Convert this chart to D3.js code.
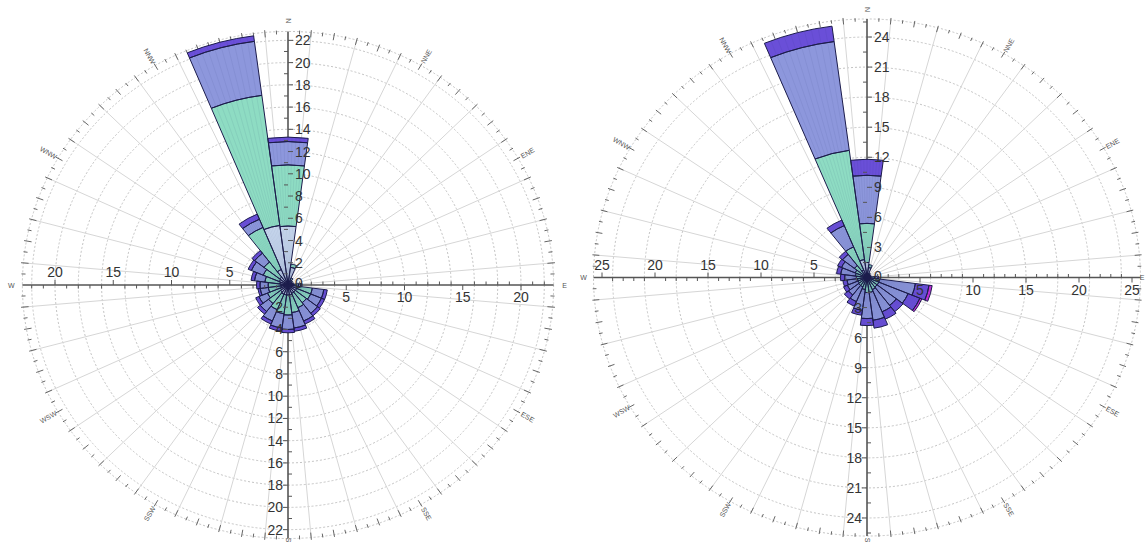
<!DOCTYPE html>
<html><head><meta charset="utf-8">
<script src="https://cdn.jsdelivr.net/npm/d3@7"></script>
<style>body{margin:0;background:#fff;} svg{display:block;font-family:Arial,"Liberation Sans",sans-serif;}</style>
</head><body><svg id="c" width="1148" height="546"></svg>
<script>
// ---- shared ----
const directions = d3.range(0, 360, 15);   // 24 sectors, 15 deg wide
const compassLabels = ["N","NNE","ENE","E","ESE","SSE","S","SSW","WSW","W","WNW","NNW"];
const compassAngles = d3.range(0, 360, 30);
const classColors = ["#c9d9ef", "#8edcc3", "#8d97dc", "#6a4fd8", "#c42ed9"];

// ---- left rose: values per speed class for each direction (0,15,...,345) ----
const leftClass1 = [5.3,1.6,0.5,0.4,0.3,0.4,0.5,0.8,0.8,0.8,0.8,0.9,0.9,0.9,0.9,0.8,0.7,0.6,0.6,0.7,0.8,0.9,1.5,5.4];
const leftClass2 = [5.5,0.3,0.2,0.1,0.1,0.1,0.4,1.3,1.3,1.2,1.4,1.6,1.8,1.7,1.5,1.3,1.2,1.1,1.1,1.3,1.5,1.7,4.1,11.8];
const leftClass3 = [2.1,0,0,0,0,0,0.2,1.0,1.0,1.2,1.3,1.4,1.3,1.3,1.1,0.9,0.8,0.7,0.7,0.9,1.1,1.0,0.8,4.9];
const leftClass4 = [0.4,0,0,0,0,0,0.1,0.3,0.3,0.3,0.3,0.3,0.3,0.3,0.3,0.3,0.3,0.2,0.3,0.3,0.3,0.3,0.5,0.5];
const leftVTicks = [2,4,6,8,10,12,14,16,18,20,22];
const leftHTicks = [5,10,15,20];

// ---- right rose ----
const rightClass1 = [1.5,1.0,0.4,0.3,0.3,0.3,0.3,0.3,0.3,0.3,0.3,0.3,0.3,0.3,0.3,0.3,0.3,0.3,0.3,0.3,0.3,0.4,0.8,1.8];
const rightClass2 = [3.9,0.3,0.1,0.1,0.1,0.1,0.4,0.9,0.9,0.9,1.0,1.2,1.2,0.9,0.7,0.7,0.6,0.6,0.7,0.8,0.9,1.1,2.5,11.0];
const rightClass3 = [4.8,0,0,0,0,0,0.3,3.4,3.0,2.3,2.4,2.8,2.6,2.1,1.6,1.2,1.1,1.0,1.1,1.4,1.4,1.4,2.3,10.95];
const rightClass4 = [1.6,0,0,0,0,0,0.1,1.3,1.2,0.8,0.8,0.8,0.7,0.5,0.5,0.5,0.4,0.4,0.4,0.4,0.4,0.4,0.6,1.55];
const rightClass5 = [0,0,0,0,0,0,0,0.3,0.2,0,0,0,0,0,0,0,0,0,0,0,0,0,0,0];
const rightVTicks = [3,6,9,12,15,18,21,24];
const rightHTicks = [5,10,15,20,25];

const svg = d3.select("#c");

function drawRose(cfg) {
  const {cx, cy, kx, ky, outer, classes, vTicks, hTicks, vMinor, hMinor} = cfg;
  const rad = Math.PI / 180;
  const r = d3.scaleLinear().domain([0, outer]).range([0, outer * ky]);
  const px = (v, a) => cx + v * kx * Math.sin(a * rad);
  const py = (v, a) => cy - v * ky * Math.cos(a * rad);
  const g = svg.append("g").attr("transform", `translate(${cx},${cy}) scale(${kx / ky},1)`);
  const nss = "non-scaling-stroke";

  // concentric rings
  g.selectAll("circle.ring").data(vTicks).join("circle")
    .attr("r", d => r(d)).attr("fill", "none")
    .attr("stroke", "#c4c4c4").attr("stroke-width", 1).attr("stroke-dasharray", "2,2")
    .attr("vector-effect", nss);
  g.append("circle").attr("r", r(outer)).attr("fill", "none")
    .attr("stroke", "#c4c4c4").attr("stroke-dasharray", "2,2").attr("vector-effect", nss);

  // radial grid lines
  const spokes = d3.range(5, 360, 10);
  g.selectAll("line.spoke").data(spokes).join("line")
    .attr("x1", 0).attr("y1", 0)
    .attr("x2", d => r(outer) * Math.sin(d * rad)).attr("y2", d => -r(outer) * Math.cos(d * rad))
    .attr("stroke", "#d6d6d6").attr("stroke-width", 1).attr("vector-effect", nss);

  // outer ring tick marks
  const oticks = d3.range(0, 360, 2.5).filter(d => d % 90 !== 0);
  g.selectAll("line.otick").data(oticks).join("line")
    .attr("x1", d => r(outer - (d % 5 === 0 ? 0.45 : 0.25)) * Math.sin(d * rad))
    .attr("y1", d => -r(outer - (d % 5 === 0 ? 0.45 : 0.25)) * Math.cos(d * rad))
    .attr("x2", d => r(outer + (d % 5 === 0 ? 0.2 : 0.1)) * Math.sin(d * rad))
    .attr("y2", d => -r(outer + (d % 5 === 0 ? 0.2 : 0.1)) * Math.cos(d * rad))
    .attr("stroke", "#666").attr("stroke-width", 1).attr("vector-effect", nss);

  // axis lines (N-S, W-E)
  g.append("line").attr("x1", 0).attr("x2", 0).attr("y1", -r(outer)).attr("y2", r(outer))
    .attr("stroke", "#555").attr("stroke-width", 1.6).attr("vector-effect", nss);
  g.append("line").attr("y1", 0).attr("y2", 0).attr("x1", -r(outer)).attr("x2", r(outer))
    .attr("stroke", "#555").attr("stroke-width", 1.6).attr("vector-effect", nss);

  // axis ticks
  const tg = svg.append("g").attr("stroke", "#555").attr("stroke-width", 1);
  vTicks.forEach(v => {
    tg.append("line").attr("x1", cx).attr("x2", cx + 5).attr("y1", py(v, 0)).attr("y2", py(v, 0));
    tg.append("line").attr("x1", cx).attr("x2", cx - 5).attr("y1", py(v, 180)).attr("y2", py(v, 180));
  });
  d3.range(vMinor, outer, vMinor).filter(v => !vTicks.includes(+v.toFixed(2))).forEach(v => {
    tg.append("line").attr("x1", cx).attr("x2", cx - 4).attr("y1", py(v, 0)).attr("y2", py(v, 0));
    tg.append("line").attr("x1", cx).attr("x2", cx + 4).attr("y1", py(v, 180)).attr("y2", py(v, 180));
  });
  hTicks.forEach(v => {
    tg.append("line").attr("y1", cy).attr("y2", cy + 5).attr("x1", px(v, 90)).attr("x2", px(v, 90));
    tg.append("line").attr("y1", cy).attr("y2", cy - 5).attr("x1", px(v, 270)).attr("x2", px(v, 270));
  });
  d3.range(hMinor, outer, hMinor).filter(v => !hTicks.includes(+v.toFixed(2))).forEach(v => {
    tg.append("line").attr("y1", cy).attr("y2", cy - 3.5).attr("x1", px(v, 90)).attr("x2", px(v, 90));
    tg.append("line").attr("y1", cy).attr("y2", cy + 3.5).attr("x1", px(v, 270)).attr("x2", px(v, 270));
  });

  // stacked bars
  const arc = d3.arc();
  const half = 7.5 * rad;
  const segs = [];
  directions.forEach((dir, i) => {
    let acc = 0;
    classes.forEach((arr, c) => {
      const v = arr[i];
      if (v > 0) {
        segs.push({dir, c, r0: acc, r1: acc + v});
        acc += v;
      }
    });
  });
  g.selectAll("path.seg").data(segs).join("path")
    .attr("d", d => arc({innerRadius: r(d.r0), outerRadius: r(d.r1),
      startAngle: d.dir * rad - half, endAngle: d.dir * rad + half}))
    .attr("fill", d => classColors[d.c]);
  // fine radial texture inside the bars
  const stripes = [];
  segs.forEach(s => d3.range(-6, 7.5, 1.5).forEach(o => stripes.push({s, a: (s.dir + o) * rad})));
  g.selectAll("line.stripe").data(stripes).join("line")
    .attr("x1", d => r(d.s.r0) * Math.sin(d.a)).attr("y1", d => -r(d.s.r0) * Math.cos(d.a))
    .attr("x2", d => r(d.s.r1) * Math.sin(d.a)).attr("y2", d => -r(d.s.r1) * Math.cos(d.a))
    .attr("stroke", "#203060").attr("stroke-opacity", 0.07).attr("stroke-width", 1)
    .attr("vector-effect", nss);
  g.selectAll("path.segline").data(segs).join("path")
    .attr("d", d => arc({innerRadius: r(d.r0), outerRadius: r(d.r1),
      startAngle: d.dir * rad - half, endAngle: d.dir * rad + half}))
    .attr("fill", "none")
    .attr("stroke", "#1c1c4c").attr("stroke-width", 1).attr("stroke-linejoin", "round")
    .attr("vector-effect", nss);

  // axis labels
  const lg = svg.append("g").attr("font-size", 14).attr("fill", "#333");
  vTicks.forEach(v => {
    lg.append("text").attr("x", cx + 7).attr("y", py(v, 0) + 5).text(v);
    lg.append("text").attr("x", cx - 5).attr("y", py(v, 180) + 5).attr("text-anchor", "end").text(v);
  });
  lg.append("text").attr("x", cx + 7).attr("y", cy + 3).text(0);
  hTicks.forEach(v => {
    lg.append("text").attr("x", px(v, 90)).attr("y", cy + 17).attr("text-anchor", "middle").text(v);
    lg.append("text").attr("x", px(v, 270)).attr("y", cy - 8).attr("text-anchor", "middle").text(v);
  });

  // compass labels (kept readable: rotation folded into -90..90)
  const cg = svg.append("g").attr("font-size", 7).attr("fill", "#555");
  compassAngles.forEach((a, i) => {
    let x = px(outer + 0.95, a), y = py(outer + 0.95, a);
    x = Math.min(Math.max(x, 6), 1142);
    y = Math.min(Math.max(y, 6), 540);
    let rot = (a + 90) % 180;
    if (rot > 90) rot -= 180;
    cg.append("text").attr("x", x).attr("y", y).attr("text-anchor", "middle")
      .attr("dominant-baseline", "central")
      .attr("transform", `rotate(${rot},${x},${y})`).text(compassLabels[i]);
  });
}

drawRose({cx: 288, cy: 285, kx: 11.65, ky: 11.12, outer: 22.8,
  classes: [leftClass1, leftClass2, leftClass3, leftClass4],
  vTicks: leftVTicks, hTicks: leftHTicks, vMinor: 1, hMinor: 1});
drawRose({cx: 867, cy: 277.5, kx: 10.6, ky: 10.02, outer: 25.8,
  classes: [rightClass1, rightClass2, rightClass3, rightClass4, rightClass5],
  vTicks: rightVTicks, hTicks: rightHTicks, vMinor: 1.5, hMinor: 1});
</script></body></html>
